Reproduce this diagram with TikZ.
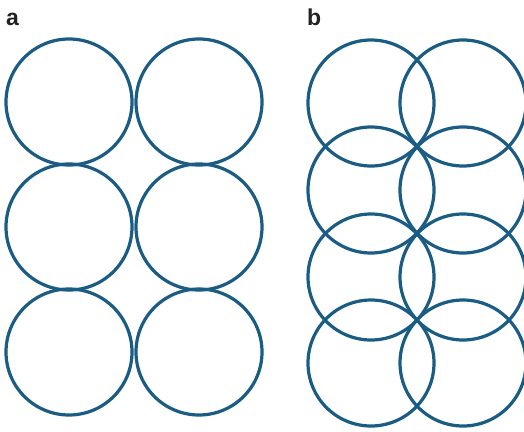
\documentclass[tikz,border=0pt]{standalone}
\usepackage{fontspec}
\setmainfont{Liberation Sans}
\definecolor{ring}{HTML}{1A5C83}
\definecolor{lbl}{HTML}{222222}
\begin{document}
\begin{tikzpicture}[x=1pt,y=-1pt,
  ringline/.style={draw=ring,line width=3.2pt},
  panellabel/.style={anchor=base west,inner sep=0pt,font=\bfseries\fontsize{23}{23}\selectfont,text=lbl}]
\useasboundingbox (0,0) rectangle (524,431);
\clip (0,0) rectangle (524,431);
% panel a
\node[panellabel] (la) at (6,25) {a};
\foreach \cx in {69,199} \foreach \cy in {102,227,352}
  \draw[ringline] (\cx,\cy) circle (63);
% panel b
\node[panellabel] (lb) at (307,25) {b};
\foreach \cx in {371,463} \foreach \cy in {103,190,277,363}
  \draw[ringline] (\cx,\cy) circle (63);
\end{tikzpicture}
\end{document}
